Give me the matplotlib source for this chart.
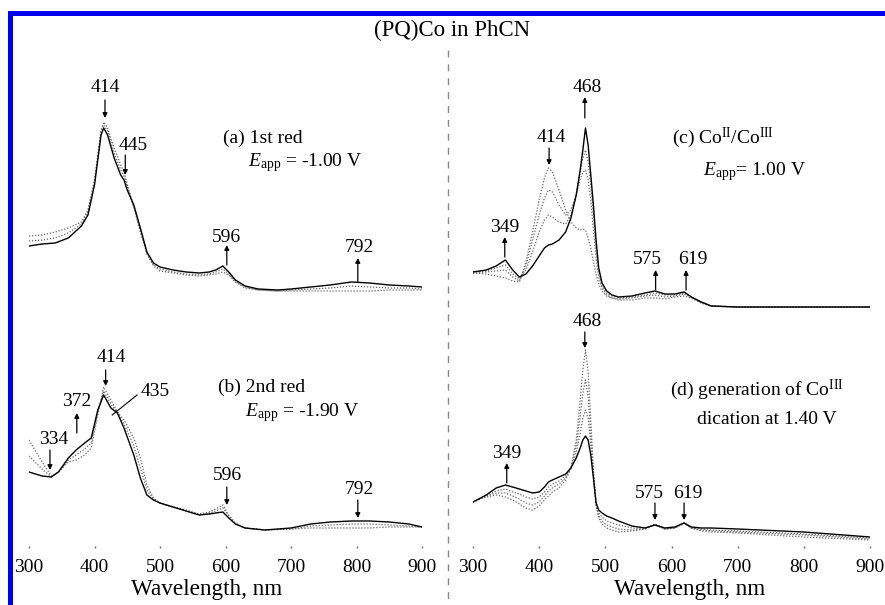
import matplotlib
matplotlib.use("Agg")
import matplotlib.pyplot as plt
from matplotlib.lines import Line2D
from matplotlib.patches import Rectangle

plt.rcParams['font.family'] = ['Liberation Serif', 'DejaVu Serif']
plt.rcParams['mathtext.fontset'] = 'custom'
plt.rcParams['mathtext.rm'] = 'Liberation Serif'
plt.rcParams['mathtext.it'] = 'Liberation Serif:italic'

# ---------------- data (absorbance, arbitrary units) ----------------
wl_a = [300, 320, 340, 360, 380, 390, 400, 405, 410, 414, 420, 430, 440, 445, 450, 460, 470, 480, 490, 500,
        520, 540, 560, 575, 585, 596, 605, 615, 630, 650, 680, 700, 730, 760, 792, 820, 850, 880, 900]
a_initial = [0.74, 0.75, 0.78, 0.82, 0.88, 1.00, 1.30, 1.55, 1.80, 1.88, 1.82, 1.62, 1.45, 1.38, 1.26, 1.03, 0.78,
             0.56, 0.44, 0.39, 0.37, 0.35, 0.34, 0.35, 0.36, 0.38, 0.35, 0.28, 0.22, 0.20, 0.19, 0.19, 0.19, 0.19,
             0.19, 0.19, 0.20, 0.20, 0.20]
a_middle = [0.69, 0.70, 0.72, 0.77, 0.86, 0.98, 1.28, 1.52, 1.78, 1.85, 1.79, 1.57, 1.40, 1.34, 1.23, 1.03, 0.80,
            0.57, 0.45, 0.41, 0.38, 0.36, 0.35, 0.36, 0.38, 0.41, 0.36, 0.29, 0.23, 0.20, 0.19, 0.20, 0.21, 0.22,
            0.24, 0.23, 0.22, 0.22, 0.21]
a_final = [0.64, 0.66, 0.67, 0.72, 0.84, 0.95, 1.25, 1.50, 1.75, 1.82, 1.75, 1.52, 1.35, 1.30, 1.20, 1.05, 0.82,
           0.58, 0.47, 0.43, 0.40, 0.38, 0.37, 0.38, 0.40, 0.44, 0.38, 0.30, 0.24, 0.21, 0.20, 0.21, 0.23, 0.25,
           0.28, 0.27, 0.25, 0.24, 0.23]

wl_b = [300, 320, 334, 345, 360, 372, 385, 395, 405, 414, 425, 435, 445, 460, 470, 480, 490, 500, 520, 540,
        560, 575, 585, 596, 605, 615, 630, 660, 700, 730, 760, 792, 820, 850, 880, 900]
b_initial = [1.08, 0.86, 0.72, 0.76, 0.86, 0.88, 0.93, 1.00, 1.33, 1.61, 1.48, 1.36, 1.28, 1.10, 0.90, 0.63, 0.50,
             0.45, 0.41, 0.38, 0.34, 0.36, 0.39, 0.43, 0.33, 0.25, 0.20, 0.18, 0.19, 0.20, 0.20, 0.20, 0.20, 0.21,
             0.21, 0.21]
b_middle = [0.92, 0.79, 0.71, 0.76, 0.88, 0.93, 0.99, 1.05, 1.36, 1.57, 1.44, 1.35, 1.24, 1.02, 0.80, 0.58, 0.49,
            0.45, 0.41, 0.37, 0.33, 0.35, 0.37, 0.40, 0.32, 0.24, 0.20, 0.18, 0.19, 0.22, 0.23, 0.24, 0.24, 0.23,
            0.22, 0.21]
b_final = [0.76, 0.72, 0.71, 0.76, 0.90, 0.98, 1.05, 1.10, 1.38, 1.53, 1.40, 1.35, 1.20, 0.93, 0.70, 0.53, 0.48,
           0.45, 0.41, 0.37, 0.33, 0.34, 0.35, 0.36, 0.30, 0.24, 0.20, 0.18, 0.20, 0.24, 0.26, 0.27, 0.27, 0.26,
           0.24, 0.21]

wl_cd = [300, 320, 335, 349, 360, 370, 380, 390, 400, 408, 414, 420, 430, 440, 448, 456, 462, 466, 470, 474,
         478, 482, 486, 490, 495, 502, 510, 520, 540, 560, 575, 590, 605, 619, 630, 645, 660, 700, 800, 900]
c_initial = [0.37, 0.36, 0.34, 0.32, 0.29, 0.28, 0.48, 0.78, 1.10, 1.32, 1.42, 1.38, 1.20, 1.00, 0.88, 0.82, 0.80,
             0.81, 0.80, 0.72, 0.62, 0.48, 0.36, 0.26, 0.19, 0.14, 0.12, 0.10, 0.10, 0.12, 0.12, 0.11, 0.13, 0.14,
             0.12, 0.07, 0.04, 0.03, 0.03, 0.03]
c_mid1 = [0.37, 0.38, 0.39, 0.40, 0.33, 0.29, 0.44, 0.70, 0.95, 1.12, 1.20, 1.18, 1.05, 0.95, 1.00, 1.15, 1.30,
          1.38, 1.40, 1.30, 1.10, 0.80, 0.52, 0.33, 0.22, 0.15, 0.12, 0.11, 0.12, 0.14, 0.15, 0.13, 0.14, 0.16,
          0.13, 0.07, 0.04, 0.03, 0.03, 0.03]
c_mid2 = [0.38, 0.39, 0.42, 0.45, 0.36, 0.31, 0.40, 0.58, 0.78, 0.90, 0.95, 0.93, 0.88, 0.86, 0.95, 1.15, 1.38,
          1.52, 1.60, 1.48, 1.25, 0.95, 0.62, 0.38, 0.24, 0.17, 0.14, 0.12, 0.13, 0.15, 0.17, 0.15, 0.15, 0.17,
          0.13, 0.08, 0.04, 0.03, 0.03, 0.03]
c_final = [0.38, 0.40, 0.44, 0.50, 0.40, 0.33, 0.36, 0.44, 0.54, 0.62, 0.65, 0.66, 0.70, 0.78, 0.92, 1.15, 1.40,
           1.60, 1.82, 1.65, 1.35, 1.05, 0.70, 0.42, 0.27, 0.19, 0.15, 0.13, 0.14, 0.17, 0.19, 0.16, 0.16, 0.18,
           0.13, 0.08, 0.04, 0.03, 0.03, 0.03]

d_initial = [0.46, 0.51, 0.53, 0.51, 0.48, 0.44, 0.40, 0.38, 0.42, 0.48, 0.52, 0.56, 0.60, 0.68, 0.80, 1.08, 1.48,
             1.78, 1.98, 1.76, 1.28, 0.78, 0.43, 0.30, 0.24, 0.20, 0.18, 0.16, 0.17, 0.19, 0.24, 0.19, 0.20, 0.25,
             0.20, 0.17, 0.16, 0.15, 0.11, 0.08]
d_mid1 = [0.46, 0.52, 0.55, 0.55, 0.52, 0.49, 0.45, 0.43, 0.46, 0.52, 0.57, 0.60, 0.64, 0.70, 0.80, 1.02, 1.32,
          1.55, 1.68, 1.52, 1.15, 0.75, 0.43, 0.32, 0.27, 0.23, 0.21, 0.19, 0.18, 0.19, 0.24, 0.19, 0.20, 0.25,
          0.20, 0.18, 0.17, 0.16, 0.13, 0.09]
d_mid2 = [0.46, 0.52, 0.57, 0.59, 0.56, 0.54, 0.51, 0.49, 0.51, 0.56, 0.61, 0.64, 0.67, 0.72, 0.80, 0.95, 1.15,
          1.30, 1.38, 1.30, 1.05, 0.72, 0.44, 0.35, 0.31, 0.27, 0.25, 0.23, 0.20, 0.19, 0.23, 0.19, 0.20, 0.25,
          0.20, 0.19, 0.18, 0.17, 0.14, 0.10]
d_final = [0.46, 0.53, 0.60, 0.63, 0.61, 0.59, 0.57, 0.55, 0.56, 0.61, 0.66, 0.68, 0.71, 0.74, 0.80, 0.90, 1.00,
           1.08, 1.12, 1.08, 0.93, 0.70, 0.45, 0.38, 0.35, 0.32, 0.30, 0.27, 0.22, 0.20, 0.23, 0.20, 0.21, 0.25,
           0.21, 0.20, 0.20, 0.19, 0.16, 0.11]

x_ticks = [300, 400, 500, 600, 700, 800, 900]

# ---------------- figure ----------------
W, H = 885, 605
fig = plt.figure(figsize=(W / 100, H / 100), dpi=100)

def fx(px):
    return px / W

def fy(py):
    return (H - py) / H

left_x0, left_x1 = 29, 422
right_x0, right_x1 = 473, 870
top_y0, top_y1 = 310, 40      # pixel rows (bottom, top)
bot_y0, bot_y1 = 548, 310

ax_a = fig.add_axes([fx(left_x0), fy(top_y0), fx(left_x1 - left_x0), (top_y0 - top_y1) / H])
ax_b = fig.add_axes([fx(left_x0), fy(bot_y0), fx(left_x1 - left_x0), (bot_y0 - bot_y1) / H])
ax_c = fig.add_axes([fx(right_x0), fy(top_y0), fx(right_x1 - right_x0), (top_y0 - top_y1) / H])
ax_d = fig.add_axes([fx(right_x0), fy(bot_y0), fx(right_x1 - right_x0), (bot_y0 - bot_y1) / H])

for ax in (ax_a, ax_c):
    ax.set_ylim(0, 2.70)
for ax in (ax_b, ax_d):
    ax.set_ylim(0, 2.38)

for ax in (ax_a, ax_b, ax_c, ax_d):
    ax.set_xlim(300, 900)
    ax.patch.set_alpha(0)
    for s in ax.spines.values():
        s.set_visible(False)
    ax.set_yticks([])

for ax in (ax_a, ax_c):
    ax.set_xticks([])
for ax in (ax_b, ax_d):
    ax.set_xticks(x_ticks)
    ax.set_xticklabels([str(t) for t in x_ticks], fontsize=14)
    ax.tick_params(axis='x', length=1.5, width=1.0, color='#666666', direction='in', pad=8)

dot = dict(color='#666666', lw=0.9, ls=(0, (1, 1.4)))
solid = dict(color='black', lw=1.0)

ax_a.plot(wl_a, a_initial, **dot)
ax_a.plot(wl_a, a_middle, **dot)
ax_a.plot(wl_a, a_final, **solid)

ax_b.plot(wl_b, b_initial, **dot)
ax_b.plot(wl_b, b_middle, **dot)
ax_b.plot(wl_b, b_final, **solid)

ax_c.plot(wl_cd, c_initial, **dot)
ax_c.plot(wl_cd, c_mid1, **dot)
ax_c.plot(wl_cd, c_mid2, **dot)
ax_c.plot(wl_cd, c_final, **solid)

ax_d.plot(wl_cd, d_initial, **dot)
ax_d.plot(wl_cd, d_mid1, **dot)
ax_d.plot(wl_cd, d_mid2, **dot)
ax_d.plot(wl_cd, d_final, **solid)

FS = 14
arrow_kw = dict(arrowstyle='-|>', color='black', lw=0.9, mutation_scale=7, shrinkA=0, shrinkB=0)

def mark(ax, label, x_arrow, y_tail, y_head, x_text, y_text):
    ax.annotate('', xy=(x_arrow, y_head), xytext=(x_arrow, y_tail), arrowprops=arrow_kw)
    ax.text(x_text, y_text, label, fontsize=FS, ha='center', va='center')

# panel (a)
mark(ax_a, '414', 416, 2.10, 1.92, 417, 2.22)
mark(ax_a, '445', 447, 1.55, 1.35, 459, 1.64)
mark(ax_a, '596', 602, 0.45, 0.65, 602, 0.73)
mark(ax_a, '792', 802, 0.28, 0.52, 804, 0.63)
ax_a.text(596, 1.72, '(a) 1st red', fontsize=FS, ha='left', va='center')
ax_a.text(634, 1.47, r'$E_{\mathrm{app}}$ = -1.00 V', fontsize=FS, ha='left', va='center')

# panel (b)
mark(ax_b, '414', 417, 1.78, 1.62, 425, 1.90)
mark(ax_b, '372', 373, 1.15, 1.35, 373, 1.46)
mark(ax_b, '334', 332, 0.98, 0.78, 337, 1.08)
ax_b.plot([465, 427], [1.53, 1.33], color='black', lw=0.8)
ax_b.text(492, 1.57, '435', fontsize=FS, ha='center', va='center')
mark(ax_b, '596', 602, 0.61, 0.43, 603, 0.72)
mark(ax_b, '792', 802, 0.48, 0.30, 805, 0.59)
ax_b.text(588, 1.61, '(b) 2nd red', fontsize=FS, ha='left', va='center')
ax_b.text(630, 1.35, r'$E_{\mathrm{app}}$ = -1.90 V', fontsize=FS, ha='left', va='center')

# panel (c)
mark(ax_c, '468', 469, 1.92, 2.13, 472, 2.23)
mark(ax_c, '414', 415, 1.62, 1.45, 419, 1.73)
mark(ax_c, '349', 348, 0.53, 0.73, 348, 0.83)
mark(ax_c, '575', 576, 0.20, 0.40, 564, 0.50)
mark(ax_c, '619', 622, 0.20, 0.40, 632, 0.50)
ax_c.text(601, 1.72, r'(c) Co$^{\mathrm{II}}$/Co$^{\mathrm{III}}$', fontsize=FS, ha='left', va='center')
ax_c.text(647, 1.38, r'$E_{\mathrm{app}}$= 1.00 V', fontsize=FS, ha='left', va='center')

# panel (d)
mark(ax_d, '468', 469, 2.16, 2.00, 472, 2.27)
mark(ax_d, '349', 351, 0.65, 0.85, 351, 0.95)
mark(ax_d, '575', 575, 0.45, 0.28, 566, 0.55)
mark(ax_d, '619', 619, 0.45, 0.28, 625, 0.55)
ax_d.text(598, 1.58, r'(d) generation of Co$^{\mathrm{III}}$', fontsize=FS, ha='left', va='center')
ax_d.text(638, 1.28, 'dication at 1.40 V', fontsize=FS, ha='left', va='center')

# x labels
fig.text(fx(207), fy(590), 'Wavelength, nm', fontsize=16.7, ha='center', va='center')
fig.text(fx(690), fy(590), 'Wavelength, nm', fontsize=16.7, ha='center', va='center')

# title
fig.text(fx(452), fy(30), '(PQ)Co in PhCN', fontsize=16.5, ha='center', va='center')

# separator
fig.add_artist(Line2D([fx(448), fx(448)], [fy(50), fy(605)], color='#888888', lw=1.0,
                      ls=(0, (5, 5))))

# blue frame (left and top)
fig.add_artist(Rectangle((fx(8), 0), fx(5), fy(11), color='#0000ee', lw=0))
fig.add_artist(Rectangle((fx(8), fy(16)), 1 - fx(8), 5 / H, color='#0000ee', lw=0))

fig.savefig('out.png', dpi=100)
